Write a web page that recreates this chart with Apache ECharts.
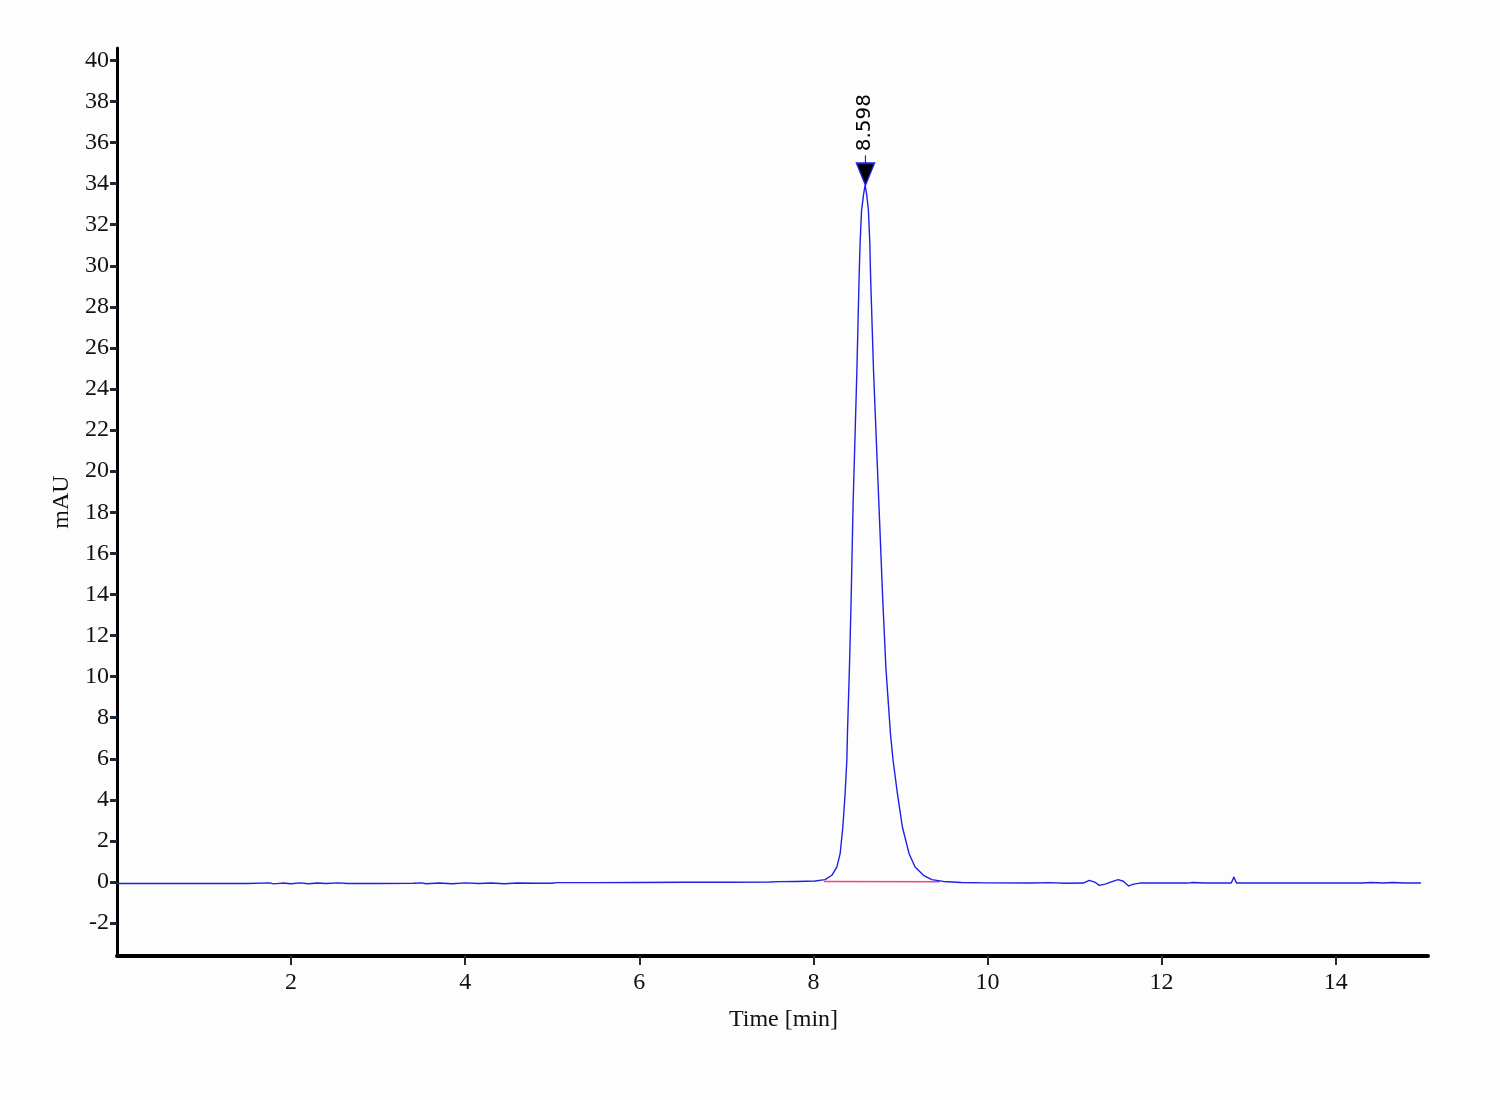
<!DOCTYPE html>
<html>
<head>
<meta charset="utf-8">
<title>Chromatogram</title>
<script src="https://cdn.jsdelivr.net/npm/echarts@6/dist/echarts.min.js"></script>
<style>
  html, body { margin: 0; padding: 0; background: #fdfdfd; }
  #chart { width: 1500px; height: 1100px; }
</style>
</head>
<body>
<div id="chart"></div>
<script>
// retention time (min) and detector signal (mAU)
const timeMin = [
  0.00, 0.50, 1.00, 1.50, 1.75, 1.80, 1.90, 2.00, 2.10, 2.20, 2.30, 2.40, 2.55, 2.65,
  3.00, 3.40, 3.50, 3.55, 3.70, 3.85, 4.00, 4.15, 4.30, 4.45, 4.60, 4.80, 5.00, 5.05,
  5.50, 6.00, 6.50, 7.00, 7.50, 7.60, 7.80, 8.02, 8.134, 8.211, 8.269, 8.307, 8.338,
  8.364, 8.384, 8.391, 8.414, 8.433, 8.456, 8.499, 8.525, 8.536, 8.553, 8.577, 8.594,
  8.611, 8.632, 8.648, 8.657, 8.691, 8.752, 8.797, 8.832, 8.885, 8.915, 8.965, 9.022,
  9.099, 9.168, 9.264, 9.360, 9.493, 9.70,
  10.00, 10.50, 10.70, 10.90, 11.10, 11.17, 11.23, 11.285, 11.35, 11.43, 11.50, 11.56,
  11.62, 11.68, 11.75, 12.00, 12.30, 12.36, 12.50, 12.80, 12.83, 12.86, 13.00, 13.50,
  14.00, 14.30, 14.40, 14.55, 14.65, 14.80, 14.98
];
const signalMau = [
  -0.07, -0.07, -0.07, -0.07, -0.04, -0.09, -0.05, -0.08, -0.04, -0.08, -0.05, -0.07, -0.04, -0.07,
  -0.07, -0.06, -0.04, -0.08, -0.05, -0.08, -0.04, -0.07, -0.05, -0.08, -0.05, -0.06, -0.06, -0.03,
  -0.03, -0.02, -0.01, -0.01, 0.00, 0.02, 0.03, 0.05, 0.12, 0.33, 0.73, 1.38, 2.68,
  4.30, 5.93, 7.22, 10.47, 13.71, 18.42, 24.84, 29.45, 31.08, 32.70, 33.50, 33.92,
  33.50, 32.70, 31.08, 29.45, 24.84, 18.42, 13.71, 10.47, 7.22, 5.93, 4.30, 2.68,
  1.38, 0.73, 0.33, 0.12, 0.03, -0.02,
  -0.04, -0.05, -0.03, -0.06, -0.05, 0.08, 0.00, -0.16, -0.10, 0.02, 0.12, 0.04,
  -0.19, -0.10, -0.05, -0.05, -0.05, -0.02, -0.05, -0.05, 0.24, -0.05, -0.05, -0.05,
  -0.05, -0.05, -0.02, -0.05, -0.02, -0.05, -0.05
];

// integration baseline under the main peak
const baselineTime = [8.12, 9.45];
const baselineMau = [0.03, 0.01];

// peak annotation
const peakTime = 8.598;
const peakHeight = 33.92;
const peakLabel = '8.598';

const xTicks = [2, 4, 6, 8, 10, 12, 14];
const yTicks = [-2, 0, 2, 4, 6, 8, 10, 12, 14, 16, 18, 20, 22, 24, 26, 28, 30, 32, 34, 36, 38, 40];

const traceData = timeMin.map((t, i) => [t, signalMau[i]]);
const baselineData = baselineTime.map((t, i) => [t, baselineMau[i]]);

const serif = '"Liberation Serif", "Times New Roman", serif';
const blue = '#1f1fe6';

const chart = echarts.init(document.getElementById('chart'));
chart.setOption({
    backgroundColor: '#fdfdfd',
    animation: false,
    grid: { left: 117, right: 72, top: 48, bottom: 144 },
    xAxis: {
        type: 'value',
        min: 0,
        max: 15.06,
        name: 'Time [min]',
        nameLocation: 'middle',
        nameGap: 52,
        nameTextStyle: { fontFamily: serif, fontSize: 24, color: '#111', padding: [0, 0, 0, 22] },
        axisLine: { onZero: false, lineStyle: { color: '#000', width: 4 } },
        axisTick: { customValues: xTicks, length: 9, lineStyle: { color: '#1c2b3a', width: 2 } },
        axisLabel: { customValues: xTicks, margin: 15, fontFamily: serif, fontSize: 24, color: '#111' },
        splitLine: { show: false }
    },
    yAxis: {
        type: 'value',
        min: -3.6,
        max: 40.6,
        name: 'mAU',
        nameLocation: 'middle',
        nameGap: 35,
        nameTextStyle: { fontFamily: serif, fontSize: 24, color: '#111' },
        axisLine: { lineStyle: { color: '#000', width: 3 } },
        axisTick: { customValues: yTicks, length: 7, lineStyle: { color: '#1c2b3a', width: 3 } },
        axisLabel: { customValues: yTicks, margin: 8, fontFamily: serif, fontSize: 24, color: '#111' },
        splitLine: { show: false }
    },
    series: [
        {
            name: 'baseline',
            type: 'line',
            data: baselineData,
            showSymbol: false,
            lineStyle: { color: '#e8458b', width: 1.5 },
            z: 2
        },
        {
            name: 'signal',
            type: 'line',
            data: traceData,
            showSymbol: false,
            smooth: false,
            lineStyle: { color: blue, width: 1.4, join: 'round' },
            z: 3,
            markPoint: {
                symbol: 'path://M9,0L9,8M1,8L17,8L9,30Z',
                symbolSize: [18, 30],
                symbolOffset: [0, -15],
                symbolKeepAspect: false,
                itemStyle: { color: '#000', borderColor: blue, borderWidth: 1.5 },
                label: {
                    show: true,
                    formatter: peakLabel,
                    position: [9, -3],
                    rotate: 90,
                    align: 'left',
                    verticalAlign: 'middle',
                    fontFamily: '"DejaVu Sans", sans-serif',
                    fontSize: 20,
                    color: '#000'
                },
                data: [{ coord: [peakTime, peakHeight] }]
            }
        }
    ]
});
</script>
</body>
</html>
